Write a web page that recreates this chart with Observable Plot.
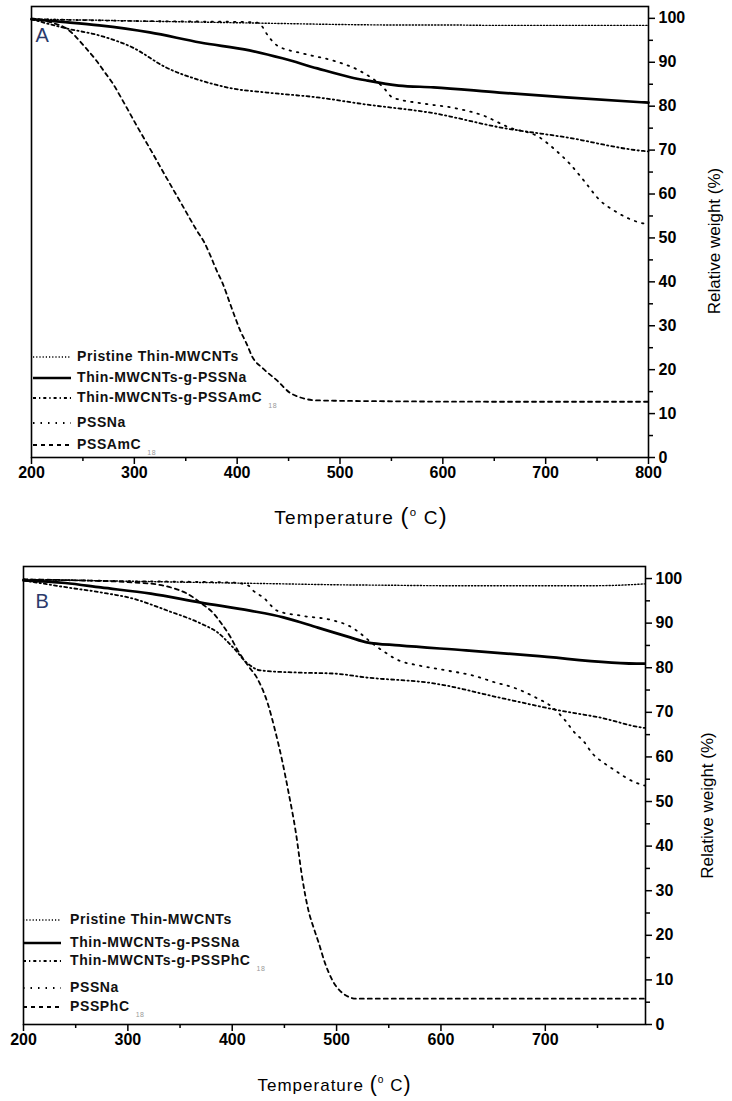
<!DOCTYPE html>
<html><head><meta charset="utf-8">
<script src="https://cdn.jsdelivr.net/npm/d3@7"></script>
<script src="https://cdn.jsdelivr.net/npm/@observablehq/plot@0.6"></script>
<style>
body{margin:0;background:#fff;font-family:"Liberation Sans",Arial,sans-serif;}
#wrap{position:relative;width:732px;height:1101px;overflow:hidden;}
.panel{position:absolute;left:0;}
.lg{position:absolute;height:14px;display:flex;align-items:center;font-weight:bold;font-size:14px;letter-spacing:0.6px;color:#111;white-space:nowrap;}
.lg svg{position:absolute;top:2px;}
.lg span.t{position:absolute;top:-2px;}
.lg sub{font-size:7px;color:#999;font-weight:normal;vertical-align:-6px;margin-left:6px;}
</style></head><body><div id="wrap"></div>
<script>
// ---------- shared ticks ----------
const yTicks = [0,10,20,30,40,50,60,70,80,90,100];
const yMinor = [5,15,25,35,45,55,65,75,85,95];
const xTicksA = [200,300,400,500,600,700,800];
const xTicksB = [200,300,400,500,600,700];
const xMinor = [250,350,450,550,650,750];

// ---------- Panel A data ----------
const A_pristine_T = [200,230,260,300,350,400,450,500,550,600,650,700,750,800];
const A_pristine_W = [99.9,99.7,99.6,99.4,99.2,99.0,98.8,98.6,98.5,98.5,98.4,98.4,98.4,98.4];
const A_gNa_T = [200,230,266,315,364,412,444,478,510,525,557,591,655,720,793,800];
const A_gNa_W = [99.8,99.2,98.4,96.8,94.5,92.7,90.9,88.6,86.6,85.9,84.7,84.3,83.1,82.0,80.9,80.8];
const A_gAm_T = [200,234,266,298,331,364,396,429,478,525,591,655,720,795,800];
const A_gAm_W = [99.8,97.7,96.1,93.4,88.8,85.9,84.0,83.1,82.0,80.4,78.4,75.2,72.9,69.8,69.7];
const A_Na_T = [200,250,300,350,400,420,432,439,464,493,518,542,551,581,613,639,664,694,710,723,737,753,766,795,800];
const A_Na_W = [99.8,99.6,99.4,99.3,99.2,99.0,95.4,93.8,92.0,90.4,88.2,84.3,82.0,80.6,79.5,77.9,75.2,72.9,69.9,67.0,63.1,58.5,56.3,53.3,53.1];
const A_Am_T = [200,220,234,253,263,271,279,286,293,302,317,331,346,361,368,373,380,386,393,398,403,409,415,425,439,451,461,478,550,650,800];
const A_Am_W = [100,99.0,97.7,93.2,90.4,87.8,85.2,82.4,79.5,75.7,69.6,63.8,57.7,51.6,49.0,46.5,42.6,39.6,35.1,31.9,28.9,26.0,22.8,20.3,17.5,14.8,13.7,13.0,12.8,12.7,12.7];

// ---------- Panel B data ----------
const B_pristine_T = [200,250,300,350,400,450,500,550,600,650,700,750,780,795];
const B_pristine_W = [99.8,99.6,99.4,99.2,99.0,98.8,98.6,98.5,98.4,98.4,98.4,98.4,98.6,98.8];
const B_gNa_T = [200,240,274,322,370,417,449,482,513,529,560,624,688,794,795];
const B_gNa_W = [99.6,99.0,98.0,96.6,94.6,92.8,91.3,89.0,86.8,85.7,85.0,83.9,82.7,80.9,80.9];
const B_gPh_T = [200,242,274,305,338,370,386,401,415,427,465,497,529,593,656,714,753,792,795];
const B_gPh_W = [99.6,98.0,96.9,95.5,92.8,89.9,87.9,84.5,80.9,79.4,78.9,78.7,77.8,76.5,73.3,70.4,68.8,66.6,66.5];
const B_Na_T = [200,250,300,350,400,415,420,430,443,465,497,511,541,560,579,605,630,652,669,691,707,719,729,736,745,757,764,786,795];
const B_Na_W = [99.8,99.6,99.4,99.3,99.1,98.5,97.3,95.7,92.8,91.7,90.6,89.5,84.3,81.6,80.5,79.4,78.3,76.7,75.6,73.3,71.1,68.2,65.2,63.7,60.8,58.5,57.4,54.3,53.6];
const B_Ph_T = [200,250,300,330,344,357,370,382,390,398,405,415,424,434,441,448,454,461,467,473,478,483,489,496,506,519,600,700,795];
const B_Ph_W = [99.8,99.6,99.2,98.6,97.8,96.6,94.5,92.2,89.8,87.0,84.0,80.5,77.6,72.0,66.0,59.0,52.0,43.0,33.0,25.6,21.7,18.2,13.7,9.9,7.0,5.8,5.8,5.8,5.8];

// ---------- legend labels ----------
const legendA = [["Pristine Thin-MWCNTs",""],["Thin-MWCNTs-g-PSSNa",""],["Thin-MWCNTs-g-PSSAmC","18"],["PSSNa",""],["PSSAmC","18"]];
const legendB = [["Pristine Thin-MWCNTs",""],["Thin-MWCNTs-g-PSSNa",""],["Thin-MWCNTs-g-PSSPhC","18"],["PSSNa",""],["PSSPhC","18"]];

// ---------- styles (by series order) ----------
const styles = [
  {w:1.4, dash:"1.2,2"},
  {w:2.7, dash:null},
  {w:1.8, dash:"3,3,1.3,3"},
  {w:1.8, dash:"1.5,6"},
  {w:1.8, dash:"4,4"}
];

const seriesA = [[A_pristine_T,A_pristine_W],[A_gNa_T,A_gNa_W],[A_gAm_T,A_gAm_W],[A_Na_T,A_Na_W],[A_Am_T,A_Am_W]];
const seriesB = [[B_pristine_T,B_pristine_W],[B_gNa_T,B_gNa_W],[B_gPh_T,B_gPh_W],[B_Na_T,B_Na_W],[B_Ph_T,B_Ph_W]];

function makePanel(c) {
  const rows = c.series.flatMap(([T,W], i) => T.map((t, j) => ({s:i, T:t, W:W[j]})));
  const marks = [
    ...styles.map((st, i) => Plot.line(rows.filter(d => d.s === i), {x:"T", y:"W", stroke:"#000", strokeWidth:st.w, strokeDasharray:st.dash, curve:"monotone-x"})),
    Plot.frame({stroke:"#000", strokeWidth:1.6}),
    Plot.axisX({ticks:xMinor, tickSize:4, text:null, label:null, strokeWidth:1.5}),
    Plot.axisX({ticks:c.xTicks, tickSize:7, tickPadding:2, label:null, strokeWidth:1.5, fontWeight:"bold", tickFormat:d=>String(d)}),
    Plot.axisY({ticks:yMinor, anchor:"right", tickSize:4, text:null, label:null, strokeWidth:1.5}),
    Plot.axisY({ticks:yTicks, anchor:"right", tickSize:6, tickPadding:4, label:null, strokeWidth:1.5, fontWeight:"bold", tickFormat:d=>String(d)}),
    Plot.text([c.letter], {frameAnchor:"top-left", dx:c.letterDx, dy:c.letterDy, fontSize:20, fill:"#2b3a6b", textAnchor:"start", lineAnchor:"middle"}),
    Plot.text(["Relative weight (%)"], {frameAnchor:"right", dx:c.ylabDx, dy:c.ylabDy, rotate:-90, fontSize:17, textAnchor:"middle", lineAnchor:"middle"}),
    Plot.text(["Temperature (°C)"], {frameAnchor:"bottom", dx:c.xlabDx, dy:c.xlabDy, fontSize:c.xlabSize, textAnchor:"middle", lineAnchor:"middle"})
  ];
  const svg = Plot.plot({
    width:732, height:c.height,
    marginTop:c.mt, marginBottom:c.mb, marginLeft:c.ml, marginRight:c.mr,
    x:{domain:c.xDomain}, y:{domain:[0,102.7]},
    style:{fontFamily:"'Liberation Sans', Arial, sans-serif", fontSize:"16px", color:"#000", background:"white"},
    marks
  });
  // superscript o in the temperature label
  d3.select(svg).selectAll("text").filter(function(){ return this.textContent === "Temperature (°C)"; })
    .each(function(){
      const t = d3.select(this); t.text("").attr("letter-spacing", c.xlabLs);
      t.append("tspan").text("Temperature ");
      t.append("tspan").attr("font-size", c.xlabSize*1.25).text("(");
      t.append("tspan").attr("font-size", c.xlabSize*0.6).attr("dy", -8).text("o");
      t.append("tspan").attr("dy", 8).text(" C");
      t.append("tspan").attr("font-size", c.xlabSize*1.25).text(")");
    });
  return svg;
}

const wrap = document.getElementById("wrap");
function place(svg, top) {
  const d = document.createElement("div"); d.className = "panel"; d.style.top = top + "px";
  d.appendChild(svg); wrap.appendChild(d);
}
place(makePanel({series:seriesA, xTicks:xTicksA, xDomain:[200,800], height:545, mt:6, mb:88, ml:31, mr:84,
  letter:"A", letterDx:4, letterDy:29, ylabDx:66, ylabDy:9, xlabDx:21, xlabDy:60, xlabSize:19, xlabLs:1.2}), 0);
place(makePanel({series:seriesB, xTicks:xTicksB, xDomain:[200,796], height:556, mt:21, mb:77, ml:23, mr:87,
  letter:"B", letterDx:12, letterDy:35, ylabDx:62, ylabDy:10, xlabDx:0, xlabDy:61, xlabSize:17, xlabLs:1}), 545);

function legend(entries, rowsY, sampleX, textX) {
  entries.forEach(([lab, sub], i) => {
    const st = styles[i];
    const d = document.createElement("div"); d.className = "lg";
    d.style.top = (rowsY[i] - 7) + "px"; d.style.left = sampleX + "px";
    d.innerHTML = `<svg width="40" height="10"><line x1="0" x2="38" y1="5" y2="5" stroke="#000" stroke-width="${st.w}" ${st.dash ? `stroke-dasharray="${st.dash}"` : ""}/></svg>` +
      `<span class="t" style="left:${textX - sampleX}px">${lab}${sub ? `<sub>${sub}</sub>` : ""}</span>`;
    wrap.appendChild(d);
  });
}
legend(legendA, [357,378,398,423,445], 33, 77);
legend(legendB, [920,943,961,988,1007], 23, 70);
</script></body></html>
